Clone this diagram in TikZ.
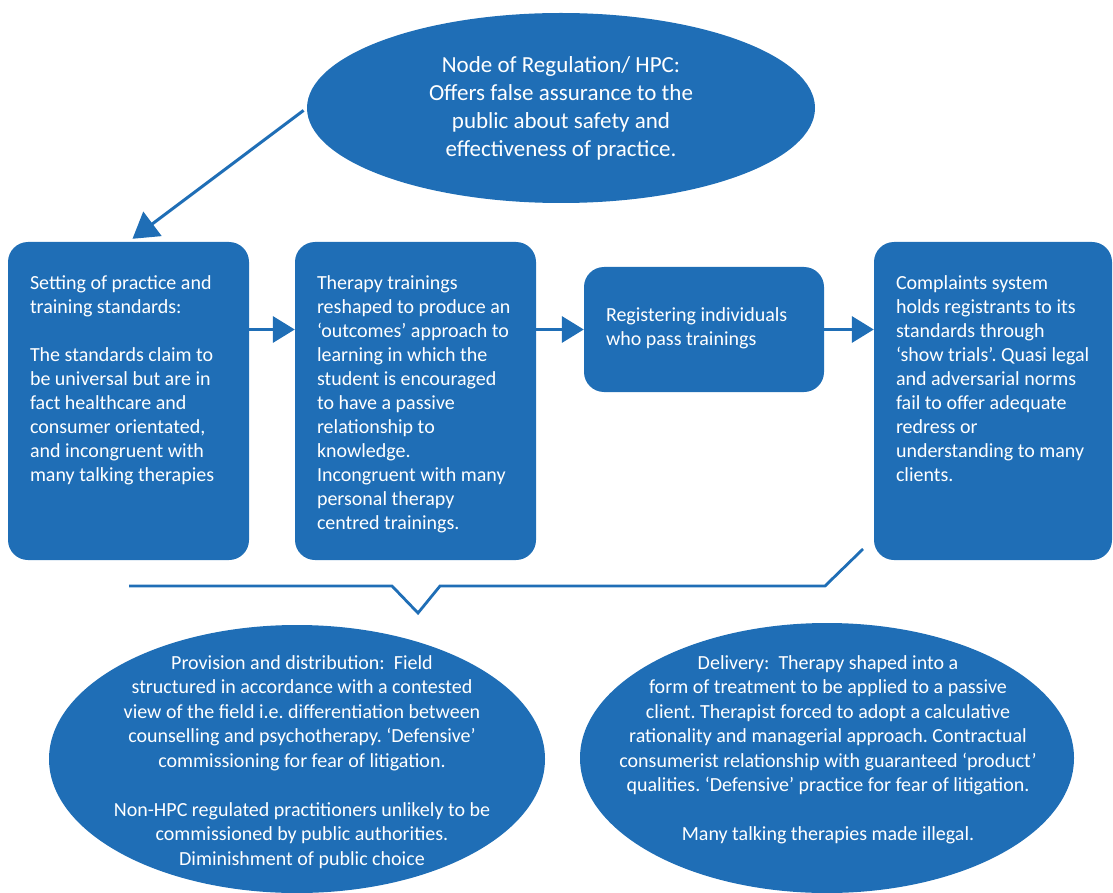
\documentclass[tikz,border=0pt]{standalone}
\usepackage{fontspec}
\setmainfont{Carlito}
\usepackage{tikz}
\usetikzlibrary{shapes.geometric}
\usetikzlibrary{positioning,fit}
\usetikzlibrary{calc,arrows.meta}
\definecolor{HpcBlue}{RGB}{31,110,182}
\tikzset{dimen/.style={-{Triangle[length=22pt,width=26pt]},line width=3.4pt,draw=HpcBlue}
}
\frenchspacing

\begin{document}
\begin{tikzpicture}[x=1pt,y=-1pt]
		\tikzstyle{Stage}=[rectangle,rounded corners=20pt,fill=HpcBlue,minimum width=241pt,minimum height=318pt,inner sep=0pt]
		\tikzstyle{Oval}=[ellipse,fill=HpcBlue,inner sep=0pt]
		\tikzstyle{StageText}=[text=white,font=\fontsize{20}{24}\selectfont,align=left,anchor=north west,inner sep=0pt]
		\tikzstyle{OvalText}=[text=white,font=\fontsize{20}{24.5}\selectfont,align=center,inner sep=0pt]
		\tikzstyle{Bracket}=[draw=HpcBlue,line width=2.8pt]

		\useasboundingbox (0,0) rectangle (1113,893);

		\def\tpad {22}
		\def\ttop {275}

		\node [Oval,minimum width=508pt,minimum height=190pt] (Reg) at (561,108) {};
		\node [OvalText,font=\fontsize{23}{28}\selectfont] at (Reg.center) {Node of Regulation/ HPC:\\Offers false assurance to the\\public about safety and\\effectiveness of practice.};

		\node [Stage] (Set) at (128.5,401) {};
		\node [Stage] (Train) at (415.5,401) {};
		\node [Stage,minimum height=125pt,minimum width=240pt] (Pass) at (704,329.5) {};
		\node [Stage,minimum width=238pt] (Comp) at (993,401) {};

		\node [StageText] at ($(Set.west |- 0,\ttop)+(\tpad,0)$) {Setting of practice and\\training standards:\\[24pt]The standards claim to\\be universal but are in\\fact healthcare and\\consumer orientated,\\and incongruent with\\many talking therapies};
		\node [StageText] at ($(Train.west |- 0,\ttop)+(\tpad,0)$) {Therapy trainings\\reshaped to produce an\\‘outcomes’ approach to\\learning in which the\\student is encouraged\\to have a passive\\relationship to\\knowledge.\\Incongruent with many\\personal therapy\\centred trainings.};
		\node [StageText] at ($(Pass.west |- 0,305)+(\tpad,2)$) {Registering individuals\\who pass trainings};
		\node [StageText] at ($(Comp.west |- 0,\ttop)+(\tpad,0)$) {Complaints system\\holds registrants to its\\standards through\\‘show trials’. Quasi legal\\and adversarial norms\\fail to offer adequate\\redress or\\understanding to many\\clients.};

		\draw [dimen,line width=3pt,-{Triangle[length=25pt,width=30pt]},shorten <=4pt,shorten >=5pt] (Reg.west) -- (Set.north);
		\draw [dimen] (Set.east |- Pass.west) -- (Train.west |- Pass.west);
		\draw [dimen] (Train.east |- Pass.west) -- (Pass.west);
		\draw [dimen] (Pass.east) -- (Comp.west |- Pass.east);

		\coordinate (BrL) at (129,586);
		\coordinate (BrR) at (863,549);
		\draw [Bracket] (BrL) -- (392,586) -- (418,613) -- (440,586) -- (825,586) -- (BrR);

		\node [Oval,minimum width=496pt,minimum height=268pt] (Prov) at (297,759) {};
		\node [OvalText,anchor=north] at (302,655) {Provision and distribution:~ Field\\structured in accordance with a contested\\view of the field i.e. differentiation between\\counselling and psychotherapy. ‘Defensive’\\commissioning for fear of litigation.\\[24.5pt]Non-HPC regulated practitioners unlikely to be\\commissioned by public authorities.\\Diminishment of public choice};
		\node [Oval,minimum width=494pt,minimum height=270pt] (Deliv) at (827,758) {};
		\node [OvalText,anchor=north] at (828,655) {Delivery:~ Therapy shaped into a\\form of treatment to be applied to a passive\\client. Therapist forced to adopt a calculative\\rationality and managerial approach. Contractual\\consumerist relationship with guaranteed ‘product’\\qualities. ‘Defensive’ practice for fear of litigation.\\[24.5pt]Many talking therapies made illegal.};

\end{tikzpicture}
\end{document}
